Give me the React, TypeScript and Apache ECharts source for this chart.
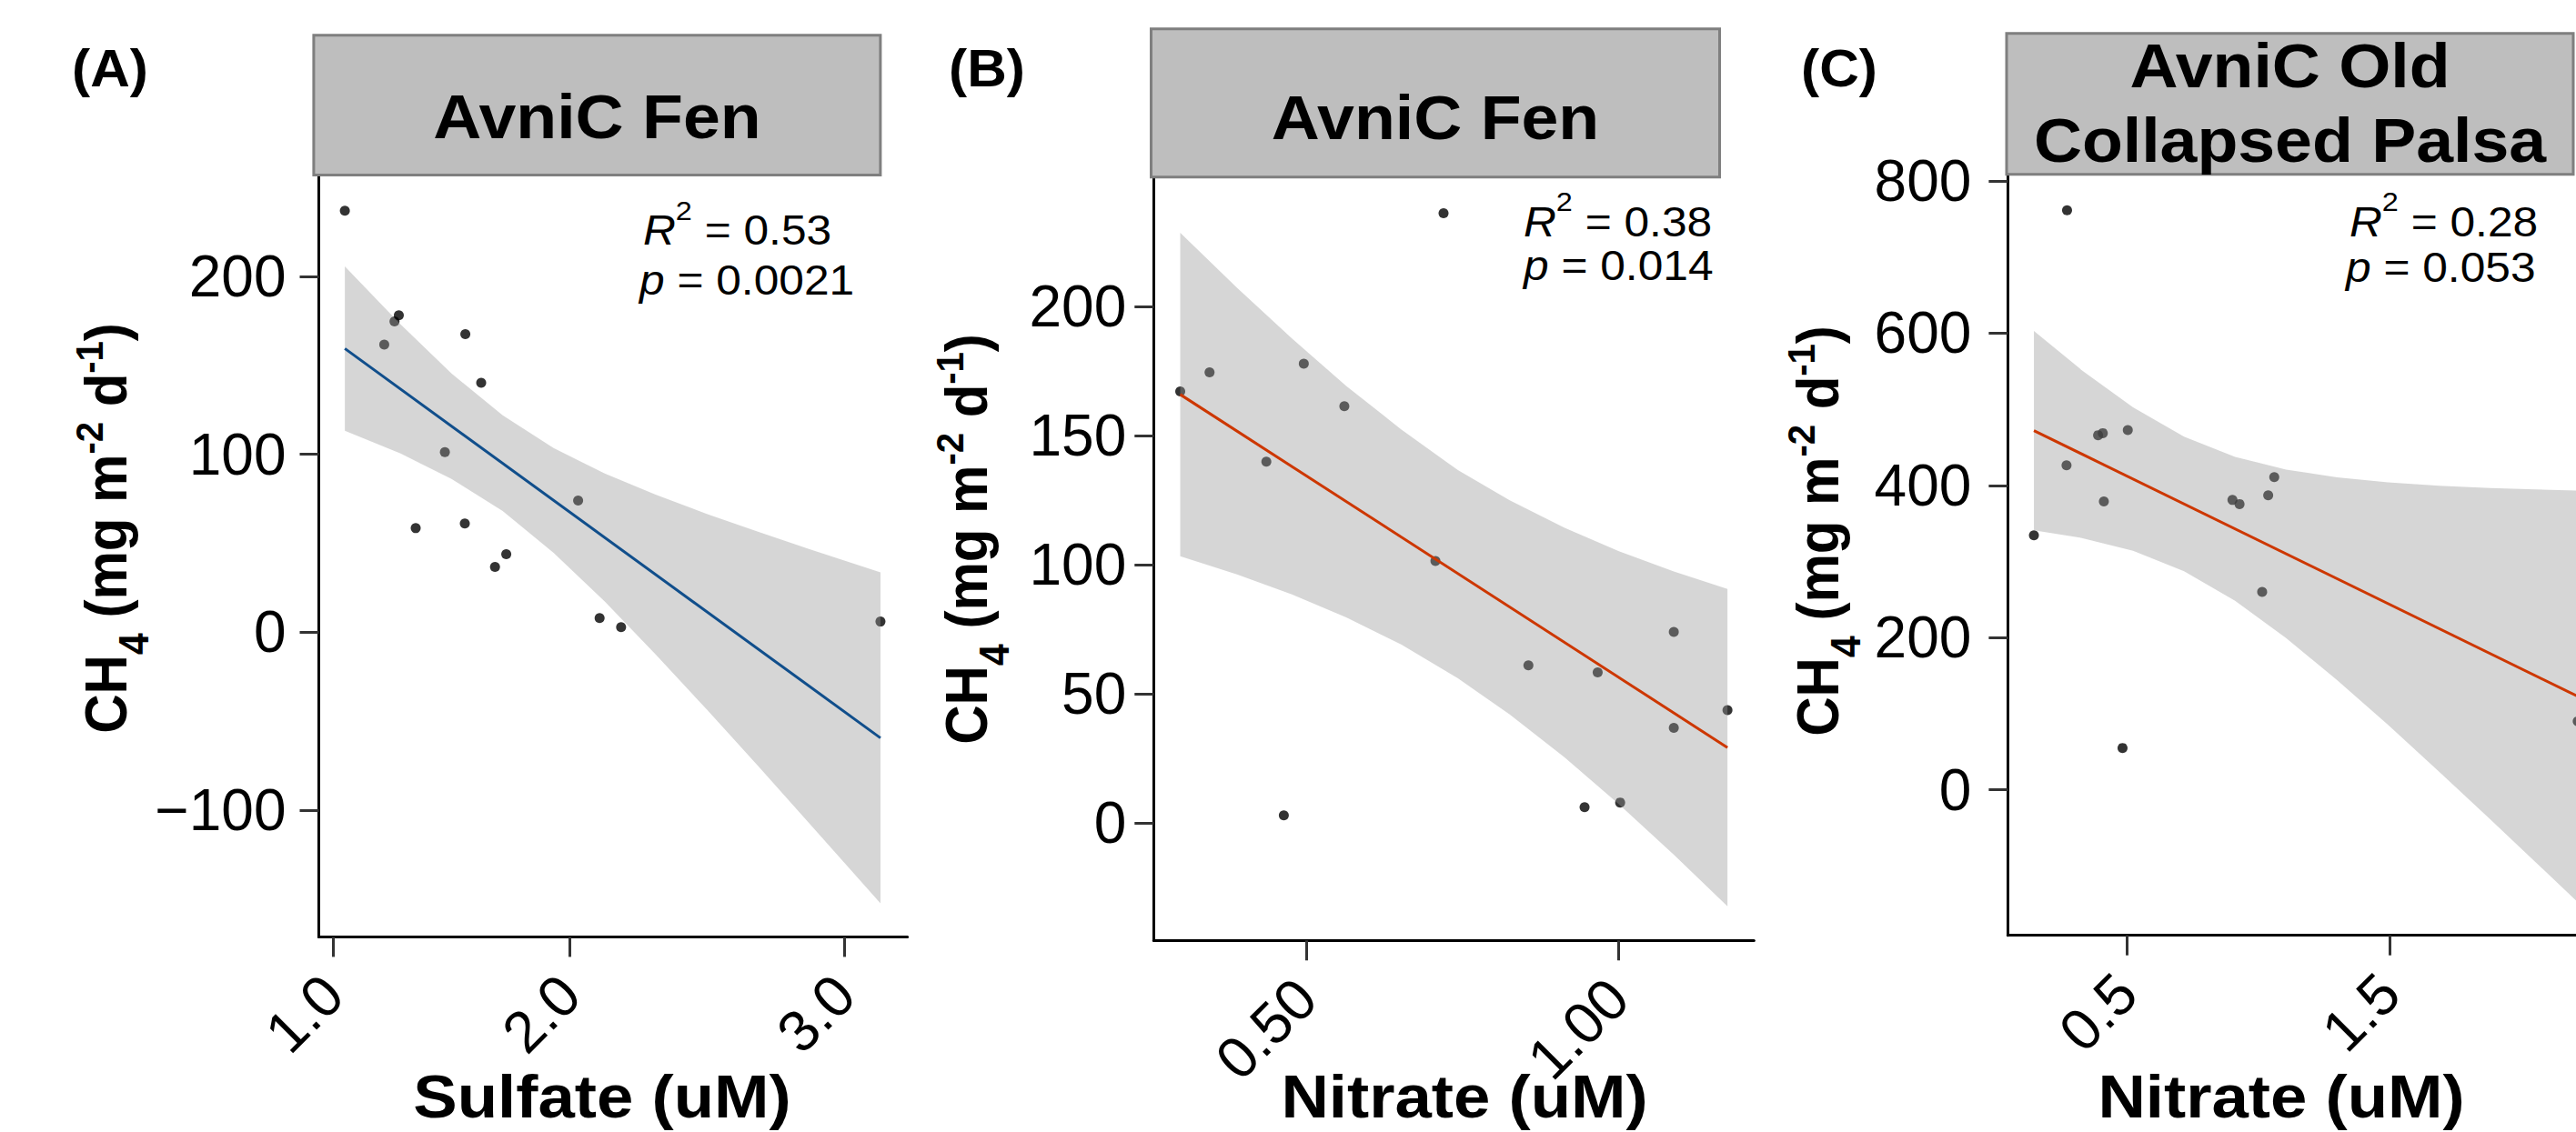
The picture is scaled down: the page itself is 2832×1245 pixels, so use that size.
import React, { useEffect, useRef } from "react";
import * as echarts from "echarts";

// ---------------- Panel A: AvniC Fen vs Sulfate ----------------
const sulfateX = [1.046, 1.257, 1.24, 1.2, 1.517, 1.579, 1.437, 1.958, 1.323, 1.515, 1.677, 1.633, 2.042, 2.126, 3.14];
const sulfateCH4 = [236.9, 178.1, 174.7, 161.7, 167.5, 140.2, 101.2, 74.0, 58.5, 61.1, 43.9, 36.7, 8.0, 2.9, 6.0];
const sulfateFitX = [1.046, 3.14];
const sulfateFitY = [159.4, -59.4];
const sulfateBandX = [1.046, 1.264, 1.463, 1.663, 1.862, 2.062, 2.261, 2.461, 2.661, 2.86, 3.14];
const sulfateBandLow = [113.2, 100.4, 86.2, 68.1, 44.7, 17.3, -12.5, -43.4, -75.1, -107.1, -152.3];
const sulfateBandHigh = [205.6, 173.0, 145.4, 121.9, 103.5, 89.2, 77.3, 66.5, 56.5, 46.8, 33.6];
const sulfateTickValues = [1.0, 1.926, 3.0];
const sulfateTickLabels = ["1.0", "2.0", "3.0"];
const sulfateYTicks = [-100, 0, 100, 200];

// ---------------- Panel B: AvniC Fen vs Nitrate ----------------
const nitrateFenX = [0.72, 0.298, 0.345, 0.496, 0.561, 0.436, 0.707, 0.856, 0.967, 1.089, 1.089, 1.175, 0.464, 0.946, 1.003];
const nitrateFenCH4 = [236.1, 167.1, 174.5, 177.8, 161.4, 139.9, 101.4, 61.0, 58.3, 74.0, 36.8, 43.7, 2.9, 6.1, 7.9];
const nitrateFenFitX = [0.298, 1.175];
const nitrateFenFitY = [165.9, 29.2];
const nitrateFenBandX = [0.298, 0.389, 0.477, 0.564, 0.652, 0.743, 0.826, 0.914, 1.001, 1.089, 1.175];
const nitrateFenBandLow = [103.3, 96.2, 88.5, 79.6, 69.1, 56.0, 42.0, 25.4, 7.2, -12.3, -32.3];
const nitrateFenBandHigh = [228.5, 207.2, 187.6, 169.2, 152.4, 136.6, 124.9, 114.3, 105.2, 97.4, 90.6];
const nitrateFenTickValues = [0.5, 1.0];
const nitrateFenTickLabels = ["0.50", "1.00"];
const nitrateFenYTicks = [0, 50, 100, 150, 200];

// ---------------- Panel C: AvniC Old Collapsed Palsa vs Nitrate ----------------
const nitratePalsaX = [0.273, 0.147, 0.271, 0.391, 0.409, 0.504, 0.413, 0.902, 0.929, 1.038, 1.061, 1.015, 0.484, 2.215];
const nitratePalsaCH4 = [761.6, 334.5, 426.4, 466.0, 468.7, 472.6, 378.9, 380.9, 375.5, 386.9, 411.0, 260.1, 55.0, 90.0];
const nitratePalsaFitX = [0.147, 2.3];
const nitratePalsaFitY = [472.0, 108.5];
const nitratePalsaBandX = [0.147, 0.329, 0.524, 0.718, 0.912, 1.106, 1.3, 1.494, 1.688, 1.882, 2.208, 2.3];
const nitratePalsaBandLow = [340.9, 331.0, 314.1, 287.1, 248.3, 199.3, 144.2, 85.2, 23.9, -38.5, -145.2, -175.5];
const nitratePalsaBandHigh = [603.1, 551.4, 502.7, 464.1, 437.5, 420.9, 410.6, 404.0, 399.7, 396.7, 393.2, 392.5];
const nitratePalsaTickValues = [0.5, 1.5];
const nitratePalsaTickLabels = ["0.5", "1.5"];
const nitratePalsaYTicks = [0, 200, 400, 600, 800];

// ---------------- Texts ----------------
const panelLetters = ["(A)", "(B)", "(C)"];
const stripTitles = [["AvniC Fen"], ["AvniC Fen"], ["AvniC Old", "Collapsed Palsa"]];
const xTitles = ["Sulfate (uM)", "Nitrate (uM)", "Nitrate (uM)"];
const r2Values = ["0.53", "0.38", "0.28"];
const pValues = ["0.0021", "0.014", "0.053"];
const fitColors = ["#104E8B", "#CD3700", "#CD3700"];

const W = 2832;
const H = 1245;
const FONT = '"Liberation Sans", Arial, Helvetica, sans-serif';

const panels = [
  {
    x: sulfateX, y: sulfateCH4, fitX: sulfateFitX, fitY: sulfateFitY,
    bx: sulfateBandX, blo: sulfateBandLow, bhi: sulfateBandHigh,
    xt: sulfateTickValues, xl: sulfateTickLabels, yt: sulfateYTicks,
    grid: { left: 350.5, top: 192.4, width: 647.1, height: 838.0 },
    xMin: 0.9442, xMax: 3.2454, yMin: -171.2, yMax: 257.0, yMargin: 36,
    strip: { x: 344.9, y: 38.7, w: 623, h: 153.7 },
    letter: [121, 75], titleX: 656.4, titleY: [128.4],
    ann: [[707, 253.5], [703, 308.5]], xTitle: [662, 1206], yTitle: [116, 581],
  },
  {
    x: nitrateFenX, y: nitrateFenCH4, fitX: nitrateFenFitX, fitY: nitrateFenFitY,
    bx: nitrateFenBandX, blo: nitrateFenBandLow, bhi: nitrateFenBandHigh,
    xt: nitrateFenTickValues, xl: nitrateFenTickLabels, yt: nitrateFenYTicks,
    grid: { left: 1268.3, top: 193.6, width: 660.0, height: 840.7 },
    xMin: 0.2554, xMax: 1.2175, yMin: -45.5, yMax: 250.5, yMargin: 30,
    strip: { x: 1265.5, y: 31.8, w: 625, h: 162.9 },
    letter: [1085, 75], titleX: 1578, titleY: [129.4],
    ann: [[1675, 244], [1675, 292]], xTitle: [1610, 1206], yTitle: [1062, 593],
  },
  {
    x: nitratePalsaX, y: nitratePalsaCH4, fitX: nitratePalsaFitX, fitY: nitratePalsaFitY,
    bx: nitratePalsaBandX, blo: nitratePalsaBandLow, bhi: nitratePalsaBandHigh,
    xt: nitratePalsaTickValues, xl: nitratePalsaTickLabels, yt: nitratePalsaYTicks,
    grid: { left: 2207.4, top: 191.3, width: 662.6, height: 837.4 },
    xMin: 0.0479, xMax: 2.34, yMin: -191.2, yMax: 809.3, yMargin: 40,
    strip: { x: 2206, y: 36.8, w: 623, h: 155 },
    letter: [2022, 75], titleX: 2517.5, titleY: [72.4, 154.4],
    ann: [[2583, 244], [2579, 294.5]], xTitle: [2508, 1206], yTitle: [1998, 584],
  },
];

function fmtY(v: number) {
  return v < 0 ? "\u2212" + Math.abs(v) : String(v);
}

function nearestLabel(v: number, vals: number[], labels: string[]) {
  let best = 0;
  for (let k = 1; k < vals.length; k++) {
    if (Math.abs(vals[k] - v) < Math.abs(vals[best] - v)) best = k;
  }
  return labels[best];
}

function textEl(x: number, y: number, text: string, o: any) {
  return {
    type: "text",
    x,
    y,
    rotation: o.rotation || 0,
    scaleX: o.scaleX || 1,
    scaleY: o.scaleY || 1,
    silent: true,
    z: 20,
    style: {
      text,
      fill: "#000",
      fontFamily: FONT,
      fontSize: o.fontSize,
      fontWeight: o.bold ? "bold" : "normal",
      align: o.align || "center",
      verticalAlign: "middle",
      textAlign: o.align || "center",
      textVerticalAlign: "middle",
      rich: o.rich,
    },
  };
}

const yTitleRich = {
  a: { fontSize: 60, lineHeight: 60, fontWeight: "bold", fontFamily: FONT, fill: "#000", verticalAlign: "middle" },
  s: { fontSize: 43, lineHeight: 43, fontWeight: "bold", fontFamily: FONT, fill: "#000", padding: [56, 0, 0, 0], verticalAlign: "middle" },
  p: { fontSize: 40, lineHeight: 40, fontWeight: "bold", fontFamily: FONT, fill: "#000", padding: [0, 0, 34, 0], verticalAlign: "middle" },
};
const annRich = {
  i: { fontSize: 46, lineHeight: 46, fontStyle: "italic", fontFamily: FONT, fill: "#000", verticalAlign: "middle" },
  s: { fontSize: 30, lineHeight: 30, fontFamily: FONT, fill: "#000", padding: [0, 0, 44, 0], verticalAlign: "middle" },
  n: { fontSize: 46, lineHeight: 46, fontFamily: FONT, fill: "#000", verticalAlign: "middle" },
};

function buildOption() {
  const grid: any[] = [];
  const xAxis: any[] = [];
  const yAxis: any[] = [];
  const series: any[] = [];
  const graphic: any[] = [];

  panels.forEach((p, i) => {
    grid.push({ ...p.grid, containLabel: false, outerBoundsMode: "none" });
    xAxis.push({
      type: "value",
      gridIndex: i,
      min: p.xMin,
      max: p.xMax,
      axisLine: { show: true, onZero: false, lineStyle: { color: "#000", width: 3 } },
      axisTick: { show: true, inside: false, length: 22, customValues: p.xt, lineStyle: { color: "#333", width: 3 } },
      axisLabel: {
        show: true,
        rotate: 45,
        margin: 53,
        fontSize: 64,
        color: "#000",
        fontFamily: FONT,
        customValues: p.xt,
        formatter: (v: number) => nearestLabel(v, p.xt, p.xl),
      },
      splitLine: { show: false },
    });
    yAxis.push({
      type: "value",
      gridIndex: i,
      min: p.yMin,
      max: p.yMax,
      axisLine: { show: true, onZero: false, lineStyle: { color: "#000", width: 3 } },
      axisTick: { show: true, inside: false, length: 21, customValues: p.yt, lineStyle: { color: "#333", width: 3 } },
      axisLabel: {
        show: true,
        margin: p.yMargin,
        fontSize: 64,
        color: "#000",
        fontFamily: FONT,
        customValues: p.yt,
        formatter: (v: number) => fmtY(v),
      },
      splitLine: { show: false },
    });

    series.push({
      type: "scatter",
      xAxisIndex: i,
      yAxisIndex: i,
      z: 2,
      silent: true,
      symbol: "circle",
      symbolSize: 11,
      itemStyle: { color: "#000" },
      data: p.x.map((xv, k) => [xv, p.y[k]]),
    });

    const bx = p.bx, blo = p.blo, bhi = p.bhi;
    series.push({
      type: "custom",
      xAxisIndex: i,
      yAxisIndex: i,
      z: 3,
      silent: true,
      data: bx.map((xv, k) => [xv, blo[k], bhi[k]]),
      encode: { x: 0, y: [1, 2] },
      renderItem: (params: any, api: any) => {
        if (params.dataIndex !== 0) return null;
        const pts: number[][] = [];
        for (let k = 0; k < bx.length; k++) pts.push(api.coord([bx[k], bhi[k]]));
        for (let k = bx.length - 1; k >= 0; k--) pts.push(api.coord([bx[k], blo[k]]));
        return {
          type: "polygon",
          shape: { points: pts },
          style: { fill: "rgba(153,153,153,0.4)", stroke: "none" },
        };
      },
    });

    series.push({
      type: "line",
      xAxisIndex: i,
      yAxisIndex: i,
      z: 4,
      silent: true,
      showSymbol: false,
      symbol: "none",
      lineStyle: { color: fitColors[i], width: 3 },
      data: p.fitX.map((xv, k) => [xv, p.fitY[k]]),
    });

    // facet strip
    graphic.push({
      type: "rect",
      z: 10,
      silent: true,
      shape: { x: p.strip.x, y: p.strip.y, width: p.strip.w, height: p.strip.h },
      style: { fill: "#BEBEBE", stroke: "#7F7F7F", lineWidth: 3 },
    });
    stripTitles[i].forEach((t, k) => {
      graphic.push(textEl(p.titleX, p.titleY[k], t, { fontSize: 68, bold: true, scaleX: 1.08 }));
    });
    graphic.push(textEl(p.letter[0], p.letter[1], panelLetters[i], { fontSize: 57, bold: true, scaleX: 1.06 }));
    graphic.push(
      textEl(p.ann[0][0], p.ann[0][1], "{i|R}{s|2}{n| = " + r2Values[i] + "}", { fontSize: 46, align: "left", scaleX: 1.08, rich: annRich })
    );
    graphic.push(
      textEl(p.ann[1][0], p.ann[1][1], "{i|p}{n| = " + pValues[i] + "}", { fontSize: 46, align: "left", scaleX: 1.08, rich: annRich })
    );
    graphic.push(textEl(p.xTitle[0], p.xTitle[1], xTitles[i], { fontSize: 66, bold: true, scaleX: 1.1 }));
    graphic.push(
      textEl(p.yTitle[0], p.yTitle[1], "{a|CH}{s|4}{a| (mg m}{p|-2}{a| d}{p|-1}{a|)}", {
        fontSize: 60,
        bold: true,
        rotation: Math.PI / 2,
        scaleY: 1.08,
        rich: yTitleRich,
      })
    );
  });

  return {
    animation: false,
    backgroundColor: "#ffffff",
    textStyle: { fontFamily: FONT },
    grid,
    xAxis,
    yAxis,
    series,
    graphic,
  };
}

export default function App() {
  const ref = useRef<HTMLDivElement>(null);
  useEffect(() => {
    if (!ref.current) return;
    const chart = echarts.init(ref.current, null, { renderer: "svg" });
    chart.setOption(buildOption() as any);
    return () => chart.dispose();
  }, []);
  return (
    <div
      ref={ref}
      style={{ position: "fixed", left: 0, top: 0, width: W, height: H, overflow: "hidden", background: "#fff" }}
    />
  );
}
